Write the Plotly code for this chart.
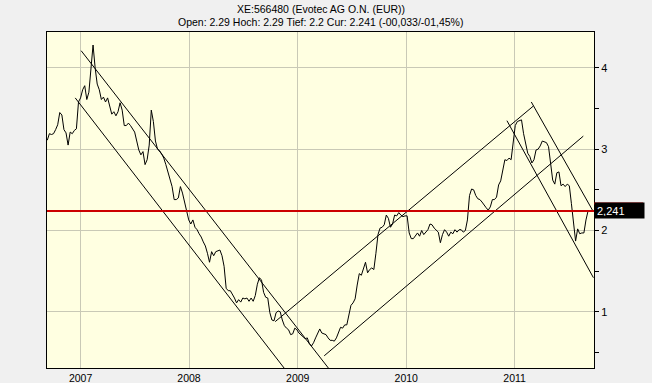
import plotly.graph_objects as go
import pandas as pd

# ---------------- data ----------------
TITLE = "XE:566480 (Evotec AG O.N. (EUR))"
SUBTITLE = "Open: 2.29 Hoch: 2.29 Tief: 2.2 Cur: 2.241 (-00,033/-01,45%)"

START_DATE = "2006-09-11"   # first weekly close
PRICE = [
    3.11, 3.19, 3.18, 3.19, 3.24, 3.30, 3.45, 3.42, 3.24, 3.20,
    3.05, 3.21, 3.19, 3.23, 3.25, 3.58, 3.63, 3.73, 3.78, 3.61,
    3.70, 3.95, 4.28, 4.00, 3.80, 3.73, 3.61, 3.64, 3.58, 3.63,
    3.52, 3.43, 3.46, 3.41, 3.46, 3.57, 3.48, 3.29, 3.29, 3.32,
    3.29, 3.25, 3.21, 3.10, 2.99, 2.93, 2.97, 2.81, 2.87, 3.05,
    3.48, 3.34, 3.10, 3.00, 2.98, 2.94, 2.89, 2.81, 2.72, 2.65,
    2.54, 2.38, 2.38, 2.40, 2.54, 2.46, 2.35, 2.28, 2.13, 2.08,
    2.13, 2.04, 2.01, 1.96, 1.92, 1.86, 1.81, 1.72, 1.61, 1.74,
    1.69, 1.74, 1.75, 1.76, 1.69, 1.56, 1.29, 1.26, 1.26, 1.22,
    1.17, 1.11, 1.15, 1.12, 1.17, 1.16, 1.17, 1.13, 1.17, 1.13,
    1.20, 1.34, 1.42, 1.39, 1.24, 1.18, 1.17, 0.99, 0.90, 0.89,
    0.99, 1.01, 1.00, 0.90, 0.83, 0.80, 0.78, 0.72, 0.73, 0.80,
    0.78, 0.74, 0.72, 0.69, 0.67, 0.68, 0.61, 0.58, 0.62, 0.68,
    0.74, 0.79, 0.74, 0.73, 0.72, 0.68, 0.65, 0.65, 0.64, 0.68,
    0.74, 0.81, 0.80, 0.84, 0.84, 0.95, 1.08, 1.11, 1.16, 1.33,
    1.47, 1.45, 1.54, 1.61, 1.48, 1.52, 1.54, 1.52, 1.72, 1.95,
    2.03, 2.04, 2.07, 2.19, 2.15, 2.04, 2.08, 2.19, 2.18, 2.22,
    2.19, 2.17, 2.18, 2.18, 1.97, 1.90, 1.90, 1.93, 1.97, 1.93,
    2.00, 1.95, 1.98, 2.01, 2.08, 2.07, 2.03, 2.01, 1.98, 1.85,
    1.95, 2.01, 1.98, 1.93, 1.98, 1.96, 2.01, 1.98, 2.01, 2.01,
    1.98, 2.00, 2.13, 2.43, 2.51, 2.50, 2.43, 2.39, 2.38, 2.35,
    2.31, 2.28, 2.25, 2.29, 2.38, 2.38, 2.41, 2.56, 2.61, 2.72,
    2.87, 2.86, 2.89, 2.87, 3.11, 3.29, 3.34, 3.35, 3.36, 3.19,
    3.07, 2.95, 2.91, 2.83, 2.87, 2.99, 3.00, 3.04, 3.10, 3.09,
    3.08, 3.03, 2.78, 2.62, 2.57, 2.71, 2.72, 2.55, 2.57, 2.54,
    2.57, 2.55, 2.33, 2.08, 1.87, 2.02, 1.96, 1.97, 1.97, 2.13,
    2.241,
]
CURRENT = 2.241

# trend channel lines (start / end)
TREND_START_DATES = ["2007-01-03", "2006-12-14", "2008-10-17", "2009-03-31", "2011-02-26", "2010-12-06"]
TREND_START_VALUES = [4.21, 3.63, 0.88, 0.46, 3.58, 3.35]
TREND_END_DATES = ["2009-04-14", "2008-11-18", "2011-03-05", "2011-08-20", "2011-09-23", "2011-09-23"]
TREND_END_VALUES = [0.31, 0.30, 3.53, 3.16, 2.23, 1.42]

X_RANGE = ["2006-09-10", "2011-09-25"]
Y_RANGE = [0.31, 4.44]

# ---------------- figure ----------------
dates = pd.date_range(START_DATE, periods=len(PRICE), freq="7D")

fig = go.Figure()
fig.add_trace(go.Scatter(x=dates, y=PRICE, mode="lines",
                         line=dict(color="black", width=1), hoverinfo="skip"))

for sd, sv, ed, ev in zip(TREND_START_DATES, TREND_START_VALUES, TREND_END_DATES, TREND_END_VALUES):
    fig.add_trace(go.Scatter(x=[sd, ed], y=[sv, ev], mode="lines",
                             line=dict(color="black", width=1), hoverinfo="skip"))

W, H = 652, 383
ML, MR, MT, MB = 47, 58, 32, 15
plot_w = W - ML - MR
plot_h = H - MT - MB
px_val = (Y_RANGE[1] - Y_RANGE[0]) / plot_h

# current price line
fig.add_shape(type="line", xref="paper", x0=0, x1=1, yref="y", y0=CURRENT, y1=CURRENT,
              line=dict(color="#cc0000", width=2))

# current price label
label_w = 49
fig.add_annotation(xref="paper", x=1, xanchor="left", yref="y", y=CURRENT, yanchor="middle",
                   text=f"{CURRENT:.3f}".replace(".", ","), showarrow=False,
                   font=dict(color="white", size=11, family="Arial, Liberation Sans, sans-serif"),
                   bgcolor="black", width=label_w - 4, height=11, borderpad=2, align="left")
fig.add_shape(type="line", xref="paper", x0=1, x1=1 + label_w / plot_w, yref="y",
              y0=CURRENT + 7.5 * px_val, y1=CURRENT + 7.5 * px_val,
              line=dict(color="#cc0000", width=2))

# titles
fig.add_annotation(xref="paper", x=0.5, yref="paper", y=(plot_h + MT - 9) / plot_h,
                   yanchor="middle", text=TITLE, showarrow=False,
                   font=dict(size=10.5, color="black"))
fig.add_annotation(xref="paper", x=0.5, yref="paper", y=(plot_h + MT - 22) / plot_h,
                   yanchor="middle", text=SUBTITLE, showarrow=False,
                   font=dict(size=10.5, color="black"))

grid = "#c9c9b6"
fig.update_layout(
    width=W, height=H,
    margin=dict(l=ML, r=MR, t=MT, b=MB),
    paper_bgcolor="#f0f0f0", plot_bgcolor="#ffffe1",
    showlegend=False,
    font=dict(family="Arial, Liberation Sans, sans-serif", size=10.5, color="black"),
    xaxis=dict(type="date", range=X_RANGE, tickformat="%Y", dtick="M12", tick0="2007-01-01",
               showgrid=True, gridcolor=grid, gridwidth=1, showline=True, linecolor="black",
               linewidth=1, mirror=True, ticks="", zeroline=False, automargin=False,
               tickfont=dict(size=10.5)),
    yaxis=dict(side="right", range=Y_RANGE, dtick=1, tick0=0, showgrid=True, gridcolor=grid,
               gridwidth=1, showline=True, linecolor="black", linewidth=1, mirror=True,
               ticks="outside", ticklen=4, tickcolor="black", zeroline=False, automargin=False,
               tickfont=dict(size=11),
               minor=dict(dtick=0.5, tick0=0, ticks="outside", ticklen=4, tickcolor="black",
                          showgrid=False)),
)

fig.write_html("out.html",
               config={"displayModeBar": False, "staticPlot": True},
               post_script="document.body.style.margin='0';document.body.style.overflow='hidden';")
